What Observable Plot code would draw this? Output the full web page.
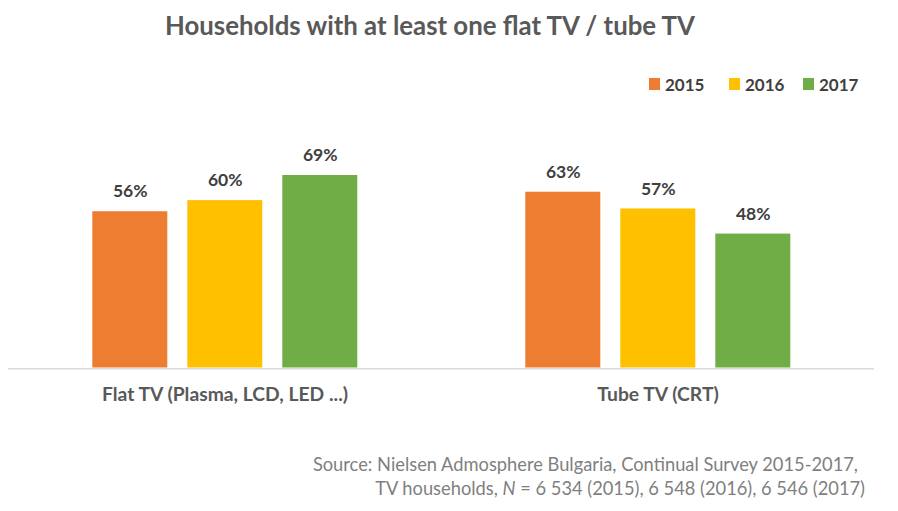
<!DOCTYPE html>
<html>
<head>
<meta charset="utf-8">
<script src="https://cdn.jsdelivr.net/npm/d3@7"></script>
<script src="https://cdn.jsdelivr.net/npm/@observablehq/plot@0.6"></script>
<style>
  html, body { margin: 0; padding: 0; background: #fff; }
  body { width: 898px; height: 511px; overflow: hidden; font-family: Lato, "Noto Sans", sans-serif; }
  #title { height: 50px; width: 860px; text-align: center; line-height: 50px; font-weight: bold; font-size: 25.8px; color: #595959; }
  #legend { position: relative; height: 50px; }
  .item { position: absolute; top: 24px; height: 20px; display: flex; align-items: center; font-weight: bold; font-size: 17px; color: #404040; }
  .sw { width: 11px; height: 12px; margin-right: 5px; }
  #chart { height: 330px; }
  #source { position: relative; height: 81px; color: #7f7f7f; font-size: 18.3px; }
  .line { position: absolute; white-space: nowrap; }
</style>
</head>
<body>
<div id="title">Households with at least one flat TV / tube TV</div>
<div id="legend"></div>
<div id="chart"></div>
<div id="source">
  <div class="line" style="right:40px; top:23px;">Source: Nielsen Admosphere Bulgaria, Continual Survey 2015-2017,</div>
  <div class="line" style="right:33px; top:47px;">TV households, <i>N</i> = 6 534 (2015), 6 548 (2016), 6 546 (2017)</div>
</div>
<script>
const categories = ["Flat TV (Plasma, LCD, LED ...)", "Tube TV (CRT)"];
const years = ["2015", "2016", "2017"];
const flatTV = [56, 60, 69];
const tubeTV = [63, 57, 48];
const colors = ["#ED7D31", "#FFC000", "#70AD47"];
const legendX = [649, 729, 803];

const series = [flatTV, tubeTV];
const rows = [];
categories.forEach((c, i) => years.forEach((y, j) => rows.push({category: c, year: y, value: series[i][j]})));

const legend = document.getElementById("legend");
years.forEach((y, j) => {
  const it = document.createElement("div");
  it.className = "item";
  it.style.left = legendX[j] + "px";
  it.innerHTML = `<span class="sw" style="background:${colors[j]}"></span><span>${y}</span>`;
  legend.appendChild(it);
});

const chart = Plot.plot({
  width: 898,
  height: 330,
  marginLeft: 7.7,
  marginRight: 24,
  marginTop: 72.2,
  marginBottom: 62.5,
  style: {fontFamily: "Lato, 'Noto Sans', sans-serif", overflow: "visible"},
  fx: {domain: categories, padding: 0, axis: null},
  x: {domain: years, paddingInner: 0.208, paddingOuter: 0.86, axis: null},
  y: {domain: [0, 70], axis: null},
  color: {domain: years, range: colors},
  marks: [
    Plot.ruleY([0], {stroke: "#d9d9d9", strokeWidth: 1.6, dy: 0.8}),
    Plot.barY(rows, {fx: "category", x: "year", y: "value", fill: "year"}),
    Plot.text(rows, {fx: "category", x: "year", y: "value", text: d => d.value + "%", dy: -20,
      fill: "#404040", fontWeight: "bold", fontSize: 17.5}),
    Plot.text(categories, {fx: d => d, text: d => d, frameAnchor: "bottom", dy: 33,
      fill: "#595959", fontWeight: "bold", fontSize: 19.3})
  ]
});
document.getElementById("chart").appendChild(chart);
</script>
</body>
</html>
